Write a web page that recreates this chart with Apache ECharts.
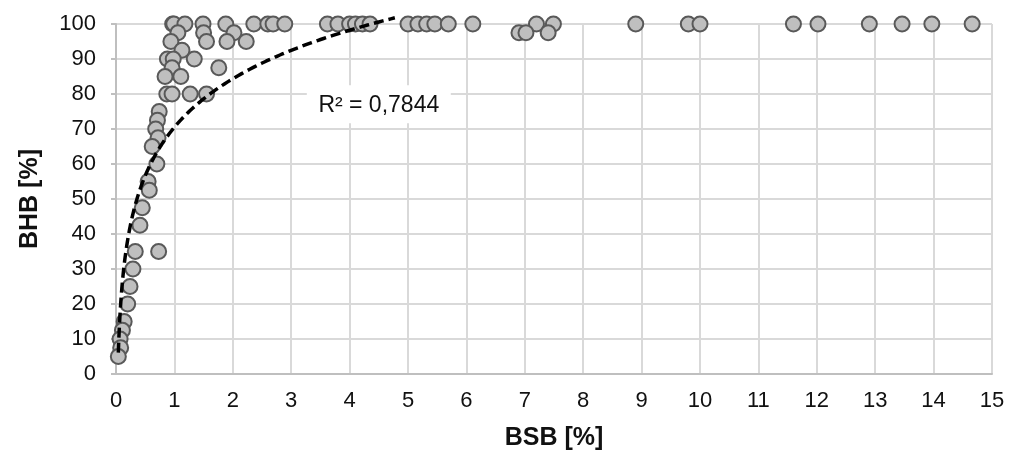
<!DOCTYPE html>
<html><head><meta charset="utf-8">
<script src="https://cdn.jsdelivr.net/npm/echarts@6/dist/echarts.min.js"></script>
<style>html,body{margin:0;padding:0;background:#fff}#c{width:1009px;height:450px}</style>
</head><body><div id="c"></div><script>
// BSB [%] (x) and BHB [%] (y) per point
const bsb = [
  0.97, 0.99, 1.18, 1.49, 1.88, 2.36, 2.60, 2.69, 2.89, 3.62, 3.80, 4.00, 4.10, 4.22, 4.35,
  5.00, 5.17, 5.32, 5.46, 5.69, 6.11, 7.20, 7.49, 8.90, 9.80, 10.00, 11.60, 12.02, 12.90, 13.46, 13.97, 14.66,
  1.06, 1.50, 2.02, 6.90, 7.02, 7.40,
  0.94, 1.55, 1.90, 2.23,
  1.13,
  0.88, 0.98, 1.34,
  0.96, 1.76,
  0.84, 1.11,
  0.87, 0.96, 1.27, 1.55,
  0.74, 0.71, 0.68, 0.72, 0.62, 0.70, 0.55, 0.57, 0.45, 0.41, 0.33, 0.73, 0.29, 0.24, 0.20, 0.14, 0.11, 0.07, 0.08, 0.04
];
const bhb = [
  100, 100, 100, 100, 100, 100, 100, 100, 100, 100, 100, 100, 100, 100, 100,
  100, 100, 100, 100, 100, 100, 100, 100, 100, 100, 100, 100, 100, 100, 100, 100, 100,
  97.5, 97.5, 97.5, 97.5, 97.5, 97.5,
  95, 95, 95, 95,
  92.5,
  90, 90, 90,
  87.5, 87.5,
  85, 85,
  80, 80, 80, 80,
  75, 72.5, 70, 67.5, 65, 60, 55, 52.5, 47.5, 42.5, 35, 35, 30, 25, 20, 15, 12.5, 10, 7.5, 5
];
const r2Label = 'R² = 0,7844';
const xTitle = 'BSB [%]';
const yTitle = 'BHB [%]';
// logarithmic trendline y = a*ln(x) + b, coefficients
const trendA = 20.0;
const trendB = 70.5;
const trendTopCap = 101.8; // curve is drawn up to the top edge of the plot frame

const xmin = Math.min(...bsb), xmax = Math.max(...bsb);
const trend = [];
for (let i = 0; i <= 400; i++) {
  const x = xmin * Math.pow(xmax / xmin, i / 400);
  const y = trendA * Math.log(x) + trendB;
  if (y > trendTopCap) { trend.push([Math.exp((trendTopCap - trendB) / trendA), trendTopCap]); break; }
  trend.push([x, y]);
}
const pts = bsb.map((x, i) => [x, bhb[i]]);

const font = "'Liberation Sans', Arial, sans-serif";
const txt = '#111111';
const chart = echarts.init(document.getElementById('c'), null, {renderer: 'canvas'});
chart.setOption({
  animation: false,
  backgroundColor: '#ffffff',
  grid: {left: 116, right: 17, top: 24, bottom: 76, containLabel: false, outerBoundsMode: 'none'},
  xAxis: {
    type: 'value', min: 0, max: 15, interval: 1,
    name: xTitle, nameLocation: 'middle', nameGap: 52,
    nameTextStyle: {fontFamily: font, fontSize: 25, fontWeight: 'bold', color: txt},
    axisLine: {show: true, lineStyle: {color: '#bfbfbf', width: 2}},
    axisTick: {show: false},
    axisLabel: {fontFamily: font, fontSize: 22, color: txt, margin: 16},
    splitLine: {show: true, lineStyle: {color: '#d9d9d9', width: 2}}
  },
  yAxis: {
    type: 'value', min: 0, max: 100, interval: 10,
    name: yTitle, nameLocation: 'middle', nameGap: 73, nameRotate: 90,
    nameTextStyle: {fontFamily: font, fontSize: 25, fontWeight: 'bold', color: txt},
    axisLine: {show: true, lineStyle: {color: '#bfbfbf', width: 2}},
    axisTick: {show: true, length: 5, lineStyle: {color: '#bfbfbf', width: 2}},
    axisLabel: {fontFamily: font, fontSize: 22, color: txt, margin: 20},
    splitLine: {show: true, lineStyle: {color: '#d9d9d9', width: 2}}
  },
  series: [
    {
      type: 'line', data: trend, showSymbol: false, symbol: 'none', clip: false, smooth: false,
      lineStyle: {color: '#000000', width: 3.5, type: [10, 5], cap: 'butt'}, z: 3, silent: true
    },
    {
      type: 'scatter', data: pts, symbol: 'circle', symbolSize: 15,
      itemStyle: {color: '#bfbfbf', borderColor: '#595959', borderWidth: 2, opacity: 1}, z: 2
    }
  ]
});
const c = chart.convertToPixel({gridIndex: 0}, [4.5, 76.8]);
chart.setOption({
  graphic: [{
    type: 'group', x: c[0], y: c[1], z: 10,
    children: [
      {type: 'rect', shape: {x: -72, y: -20, width: 144, height: 38}, style: {fill: '#ffffff'}},
      {type: 'text', style: {text: r2Label, x: 0, y: 0, align: 'center', verticalAlign: 'middle',
        font: '23px ' + font, fill: txt}}
    ]
  }]
});
</script></body></html>
